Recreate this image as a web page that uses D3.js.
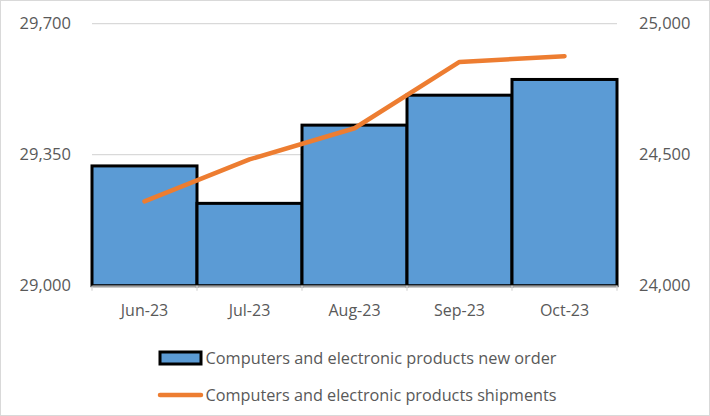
<!DOCTYPE html>
<html><head><meta charset="utf-8">
<script src="https://cdn.jsdelivr.net/npm/d3@7"></script>
<style>body{margin:0;background:#fff}svg{display:block}text{font-family:"Open Sans",sans-serif;fill:#595959}</style>
</head><body><svg id="c" width="710" height="416"></svg>
<script>
const categories = ["Jun-23","Jul-23","Aug-23","Sep-23","Oct-23"];
const newOrders = [29320, 29220, 29429, 29509, 29551];
const shipments = [24322, 24482, 24601, 24854, 24876];
const leftTicks = [29000, 29350, 29700];
const rightTicks = [24000, 24500, 25000];
const seriesNames = ["Computers and electronic products new order","Computers and electronic products shipments"];

const svg = d3.select("#c");
svg.append("rect").attr("x",0.5).attr("y",0.5).attr("width",709).attr("height",415)
  .attr("fill","#fff").attr("stroke","#d9d9d9");

const L=92, R=617, T=23.7, B=285.7;
const x = d3.scaleBand().domain(categories).range([L,R]).padding(0);
const yL = d3.scaleLinear().domain([29000,29700]).range([B,T]);
const yR = d3.scaleLinear().domain([24000,25000]).range([B,T]);

// gridlines
svg.append("g").selectAll("line").data(leftTicks.slice(1)).join("line")
  .attr("x1",L).attr("x2",R).attr("y1",d=>yL(d)).attr("y2",d=>yL(d))
  .attr("stroke","#d9d9d9").attr("stroke-width",1.3);

// bars
svg.append("g").selectAll("rect").data(newOrders).join("rect")
  .attr("x",(d,i)=>x(categories[i])).attr("width",x.bandwidth())
  .attr("y",d=>yL(d)).attr("height",d=>B-yL(d))
  .attr("fill","#5b9bd5").attr("stroke","#000").attr("stroke-width",3);

// x axis
const xa = svg.append("g").attr("transform",`translate(0,${B})`)
  .call(d3.axisBottom(x).tickSize(0).tickPadding(19));
xa.select(".domain").attr("stroke","#d9d9d9").attr("stroke-width",1.3);
xa.selectAll("text").style("font-size","16px").style("font-family","'Open Sans',sans-serif").attr("fill","#595959");
const edges = categories.map(c=>x(c)).concat([R]);
svg.append("g").selectAll("line").data(edges).join("line")
  .attr("x1",d=>d).attr("x2",d=>d).attr("y1",B).attr("y2",B+5)
  .attr("stroke","#d9d9d9").attr("stroke-width",1.3);

// left axis labels
const la = svg.append("g").attr("transform",`translate(${L},0)`)
  .call(d3.axisLeft(yL).tickValues(leftTicks).tickSize(0).tickPadding(21).tickFormat(d3.format(",")));
la.select(".domain").remove();
la.selectAll("text").style("font-size","16.5px").style("font-family","'Open Sans',sans-serif").attr("fill","#595959");

// right axis labels
const ra = svg.append("g").attr("transform",`translate(${R},0)`)
  .call(d3.axisRight(yR).tickValues(rightTicks).tickSize(0).tickPadding(22).tickFormat(d3.format(",")));
ra.select(".domain").remove();
ra.selectAll("text").style("font-size","16.5px").style("font-family","'Open Sans',sans-serif").attr("fill","#595959");

// line
const line = d3.line().x((d,i)=>x(categories[i])+x.bandwidth()/2).y(d=>yR(d));
svg.append("path").datum(shipments).attr("d",line).attr("fill","none")
  .attr("stroke","#ed7d31").attr("stroke-width",4.5).attr("stroke-linecap","round").attr("stroke-linejoin","round");

// legend
const lg = svg.append("g");
lg.append("rect").attr("x",160).attr("y",352).attr("width",41).attr("height",12)
  .attr("fill","#5b9bd5").attr("stroke","#000").attr("stroke-width",3);
lg.append("line").attr("x1",160).attr("x2",201).attr("y1",395).attr("y2",395)
  .attr("stroke","#ed7d31").attr("stroke-width",4.5).attr("stroke-linecap","round");
lg.selectAll("text").data(seriesNames).join("text")
  .attr("x",205.5).attr("y",(d,i)=>i===0?363.5:401)
  .attr("textLength",351).attr("lengthAdjust","spacingAndGlyphs")
  .style("font-size","15.5px").text(d=>d);
</script></body></html>
